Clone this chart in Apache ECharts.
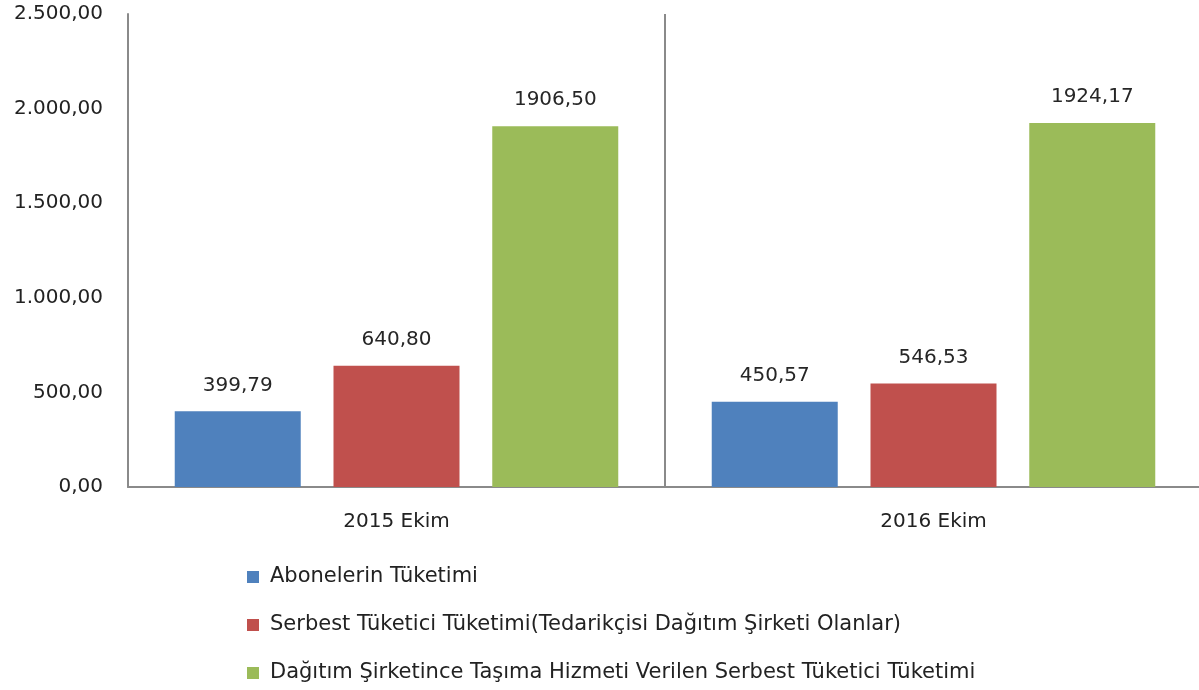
<!DOCTYPE html>
<html>
<head>
<meta charset="utf-8">
<script src="https://cdn.jsdelivr.net/npm/echarts@6/dist/echarts.min.js"></script>
<style>html,body{margin:0;padding:0;background:#fff}#c{width:1199px;height:690px}</style>
</head>
<body>
<div id="c"></div>
<script>
const categories = ['2015 Ekim', '2016 Ekim'];
const seriesNames = [
  'Abonelerin Tüketimi',
  'Serbest Tüketici Tüketimi(Tedarikçisi Dağıtım Şirketi Olanlar)',
  'Dağıtım Şirketince Taşıma Hizmeti Verilen Serbest Tüketici Tüketimi'
];
const abone = [399.79, 450.57];
const serbest = [640.80, 546.53];
const dagitim = [1906.50, 1924.17];
const colors = ['#4F81BD', '#C0504D', '#9BBB59'];

const FONT = 'DejaVu Sans';
function fmtAxis(v) {
  const parts = v.toFixed(2).split('.');
  parts[0] = parts[0].replace(/\B(?=(\d{3})+(?!\d))/g, '.');
  return parts[0] + ',' + parts[1];
}
function fmtLabel(v) { return v.toFixed(2).replace('.', ','); }

const chart = echarts.init(document.getElementById('c'));
const dataSets = [abone, serbest, dagitim];
chart.setOption({
  animation: false,
  textStyle: { fontFamily: FONT },
  grid: { left: 128, top: 14, width: 1074, height: 473, containLabel: false, outerBoundsMode: 'none' },
  legend: {
    orient: 'vertical', left: 247, top: 565, padding: 0,
    itemWidth: 12, itemHeight: 12, itemGap: 24,
    icon: 'rect',
    textStyle: { fontFamily: FONT, fontSize: 21, lineHeight: 24, color: '#222', padding: [0, 0, 0, 6] },
    data: seriesNames
  },
  xAxis: {
    type: 'category', data: categories,
    axisLine: { lineStyle: { color: '#8a8a8a', width: 2 } },
    axisTick: { show: false },
    splitLine: { show: true, lineStyle: { color: '#8a8a8a', width: 2 } },
    axisLabel: { fontFamily: FONT, fontSize: 20, color: '#222', margin: 25 }
  },
  yAxis: {
    type: 'value', min: 0, max: 2500, interval: 500,
    axisLine: { show: true, lineStyle: { color: '#8a8a8a', width: 2 } },
    axisTick: { show: false },
    splitLine: { show: false },
    axisLabel: { fontFamily: FONT, fontSize: 20, color: '#222', margin: 25, padding: [4, 0, 0, 0], formatter: fmtAxis }
  },
  series: seriesNames.map((n, i) => ({
    name: n, type: 'bar', data: dataSets[i],
    barWidth: 126, barGap: '26%',
    itemStyle: { color: colors[i] },
    label: {
      show: true, position: 'top', distance: 16,
      fontFamily: FONT, fontSize: 20, color: '#262626',
      formatter: p => fmtLabel(p.value)
    }
  }))
});
</script>
</body>
</html>
